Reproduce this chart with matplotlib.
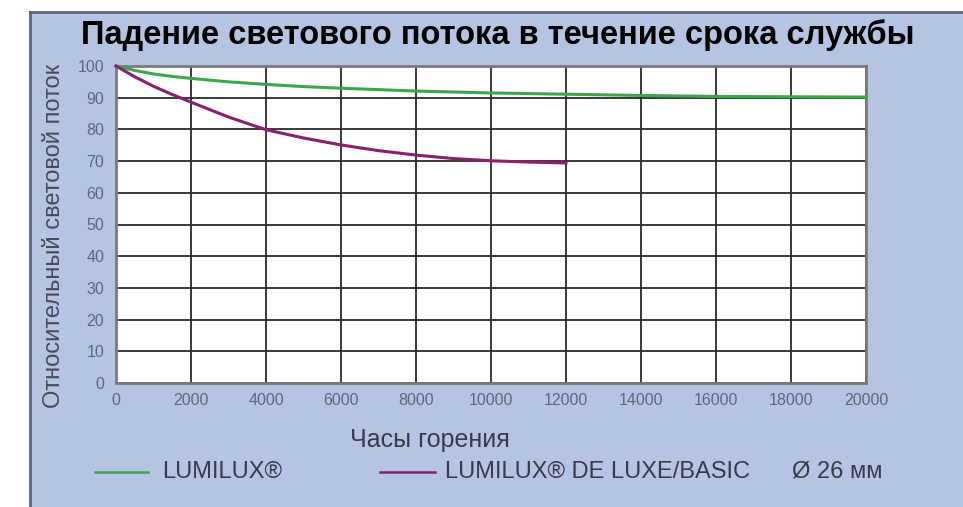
import numpy as np
import matplotlib
matplotlib.use("Agg")
import matplotlib.pyplot as plt
from matplotlib.patches import Rectangle
from matplotlib.lines import Line2D

plt.rcParams['font.family'] = ['Liberation Sans', 'DejaVu Sans']

# hours of burning
hours_lumilux = [0, 500, 1000, 1500, 2000, 3000, 4000, 5000, 6000, 8000, 10000, 12000,
                 14000, 16000, 18000, 20000]
flux_lumilux = [100, 98.6, 97.5, 96.7, 96.1, 95.0, 94.2, 93.5, 93.0, 92.1, 91.5, 91.1,
                90.7, 90.4, 90.3, 90.2]

hours_deluxe = [0, 500, 1000, 1500, 2000, 3000, 4000, 5000, 6000, 7000, 8000, 9000,
                10000, 11000, 12000]
flux_deluxe = [100, 96.6, 93.6, 91.0, 88.6, 83.9, 79.9, 77.3, 75.1, 73.3, 71.9, 70.8,
               70.1, 69.7, 69.4]

x_ticks = list(range(0, 20001, 2000))
y_ticks = list(range(0, 101, 10))

title = "Падение светового потока в течение срока службы"
y_label = "Относительный световой поток"
x_label = "Часы горения"
legend_labels = ["LUMILUX®", "LUMILUX® DE LUXE/BASIC", "Ø 26 мм"]

BG = "#b4c4e2"
GREEN = "#3aa84a"
MAGENTA = "#8a1f6e"
TICK = "#60667c"
TEXT = "#3a3a48"

W, H = 963, 507
fig = plt.figure(figsize=(W / 100, H / 100), dpi=100)
fig.patch.set_facecolor("white")

# blue panel with darker left / top border
panel_x0, panel_top = 30 / W, 1 - 12 / H
fig.patches.append(Rectangle((panel_x0, 0), 1 - panel_x0, panel_top,
                             transform=fig.transFigure, facecolor=BG,
                             edgecolor="none", zorder=-10))
fig.lines.append(Line2D([panel_x0, panel_x0], [0, panel_top], transform=fig.transFigure,
                        color="#5c6680", lw=2, zorder=-5))
fig.lines.append(Line2D([panel_x0, 1], [panel_top, panel_top], transform=fig.transFigure,
                        color="#5c6680", lw=2, zorder=-5))

# plot area: x 116..866, y 66..383 in pixels
ax = fig.add_axes([116 / W, 1 - 383 / H, 750 / W, 317 / H])
ax.set_zorder(2)
ax.set_facecolor("white")
ax.set_xlim(0, 20000)
ax.set_ylim(0, 100)
ax.set_xticks(x_ticks)
ax.set_yticks(y_ticks)
ax.grid(True, color="#2a2a2a", lw=1.3)
ax.set_axisbelow(True)
ax.tick_params(length=0, labelsize=11.5, labelcolor=TICK)
ax.tick_params(axis="x", pad=7.5)
ax.tick_params(axis="y", pad=8.5)
for s in ax.spines.values():
    s.set_color("#7a7a7a")
    s.set_linewidth(2)

ax.plot(hours_lumilux, flux_lumilux, color=GREEN, lw=2.2, zorder=3, clip_on=False)
ax.plot(hours_deluxe, flux_deluxe, color=MAGENTA, lw=2.2, zorder=3, clip_on=False)

fig.text(498 / W, 1 - 35 / H, title, ha="center", va="center",
         fontsize=23.5, fontweight="bold", color="black")
fig.text(54 / W, 1 - 236 / H, y_label, rotation=90, ha="center", va="center",
         fontsize=17, color="#4a4a58")
fig.text(430 / W, 1 - 440 / H, x_label, ha="center", va="center",
         fontsize=18, color=TEXT)

# legend row
ly = 1 - 472 / H
fig.lines.append(Line2D([95 / W, 148 / W], [ly, ly], transform=fig.transFigure,
                        color=GREEN, lw=1.8))
fig.text(162 / W, ly, legend_labels[0], ha="left", va="center", fontsize=17, color=TEXT)
fig.lines.append(Line2D([380 / W, 435 / W], [ly, ly], transform=fig.transFigure,
                        color=MAGENTA, lw=1.8))
fig.text(445 / W, ly, legend_labels[1], ha="left", va="center", fontsize=17, color=TEXT)
fig.text(792 / W, ly, legend_labels[2], ha="left", va="center", fontsize=17, color=TEXT)

fig.savefig("out.png", dpi=100, facecolor=fig.get_facecolor())
